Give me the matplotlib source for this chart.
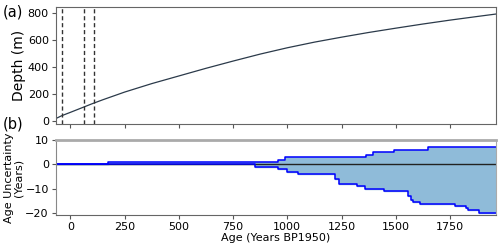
import numpy as np
import matplotlib
matplotlib.use("Agg")
import matplotlib.pyplot as plt

# =========================
# DATA
# =========================
# age-depth curve (panel a)
depth_age = [-68, -40, 0, 50, 100, 150, 250, 375, 500, 625, 750, 875, 1000,
             1125, 1250, 1375, 1500, 1625, 1750, 1875, 1960]
depth_m = [15, 37, 62, 94, 126, 156, 213, 276, 333, 390, 444, 496, 543,
           585, 622, 657, 689, 720, 749, 776, 794]

# marker ages (dashed lines)
marker_ages = [-41, 62, 108]

# age uncertainty envelope (panel b)
unc_age = [-68, 174, 851, 956, 990, 1000, 1051, 1220, 1238, 1320, 1358, 1363,
           1394, 1447, 1494, 1558, 1571, 1581, 1612, 1650, 1773, 1824, 1835,
           1886, 1960]
unc_upper = [0, 1, 1, 2, 3, 3, 3, 3, 3, 3, 3, 4,
             5, 5, 6, 6, 6, 6, 6, 7, 7, 7, 7,
             7, 7]
unc_lower = [0, 0, -1, -2, -2, -3, -4, -6, -8, -9, -10, -10,
             -10, -11, -11, -13, -14.5, -15.5, -16, -16, -17, -18, -18.5,
             -19.7, -19.7]

xticks = [0, 250, 500, 750, 1000, 1250, 1500, 1750]

# =========================
# FIGURE
# =========================
plt.rcParams["font.size"] = 8

fig = plt.figure(figsize=(5, 2.5), dpi=100)
ax1 = fig.add_axes([0.1114, 0.504, 0.8796, 0.467])
ax2 = fig.add_axes([0.1114, 0.14, 0.8796, 0.30])

# panel a
ax1.plot(depth_age, depth_m, color="#2b3a4a", lw=0.9)
for a in marker_ages:
    ax1.axvline(a, color="#333333", ls="--", lw=1.0, dashes=(3, 2))
ax1.set_xlim(-68, 1960)
ax1.set_ylim(-25, 845)
ax1.set_yticks([0, 200, 400, 600, 800])
ax1.set_xticks(xticks)
ax1.set_xticklabels([])
ax1.set_ylabel("Depth (m)", fontsize=10, labelpad=1)
for s in ax1.spines.values():
    s.set_color("#666666")

# panel b
ax2.fill_between(unc_age, unc_lower, unc_upper, step="post", color="#8fbbd9")
ax2.axhline(0, color="#222222", lw=1.0)
ax2.step(unc_age, unc_upper, where="post", color="blue", lw=1.1)
ax2.step(unc_age, unc_lower, where="post", color="blue", lw=1.1)
ax2.set_xlim(-68, 1960)
ax2.set_ylim(-20.7, 10)
ax2.set_yticks([-20, -10, 0, 10])
ax2.set_xticks(xticks)
ax2.set_xlabel("Age (Years BP1950)", labelpad=1)
ax2.set_ylabel("Age Uncertainty\n(Years)", fontsize=8, labelpad=1,
               linespacing=1.0)
ax2.spines["top"].set_color("#aaaaaa")
ax2.spines["top"].set_linewidth(2)
ax2.spines["right"].set_color("#aaaaaa")
ax2.spines["left"].set_color("#888888")
ax2.spines["bottom"].set_color("#666666")

for ax in (ax1, ax2):
    ax.tick_params(length=3, width=0.8, color="#555555", pad=2)

fig.text(0.005, 0.952, "(a)", fontsize=10.5, va="center")
fig.text(0.005, 0.505, "(b)", fontsize=10.5, va="center")

fig.savefig("out.png", dpi=100)
